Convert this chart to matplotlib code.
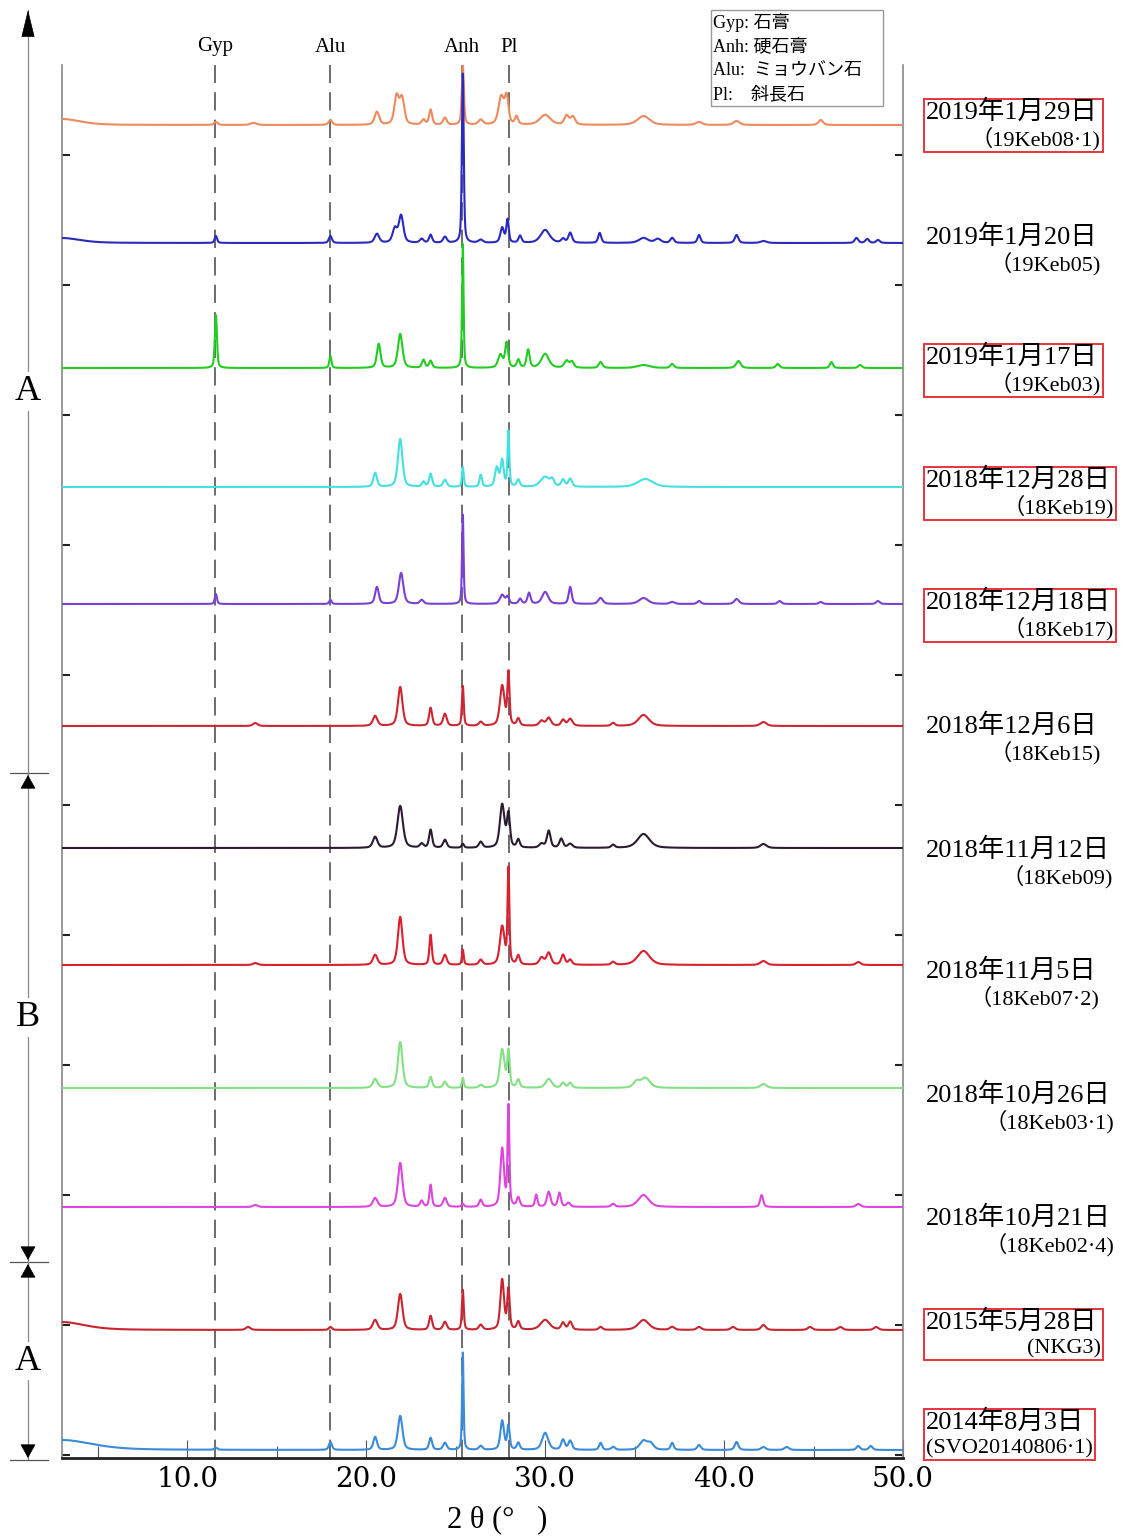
import numpy as np
import matplotlib
matplotlib.use('Agg')
import matplotlib.pyplot as plt
from matplotlib.ticker import MultipleLocator
from matplotlib.patches import Rectangle
from matplotlib.transforms import blended_transform_factory

plt.rcParams['font.family'] = ['Liberation Serif', 'Noto Sans CJK JP']

W, H = 1128, 1540

# sample labels, top to bottom
dates = ['2019年1月29日', '2019年1月20日', '2019年1月17日', '2018年12月28日',
         '2018年12月18日', '2018年12月6日', '2018年11月12日', '2018年11月5日',
         '2018年10月26日', '2018年10月21日', '2015年5月28日', '2014年8月3日']
sample_ids = ['（19Keb08·1)', '（19Keb05)', '（19Keb03)', '（18Keb19)',
              '（18Keb17)', '（18Keb15)', '（18Keb09)', '（18Keb07·2)',
              '（18Keb03·1)', '（18Keb02·4)', '(NKG3)', '(SVO20140806·1)']
boxed = [True, False, True, True, True, False, False, False, False, False, True, True]
colors = ['#EE8A5E', '#2A2ABF', '#22CC22', '#44E0E0', '#7A40D2', '#CC2633',
          '#2B1B30', '#D9202F', '#84E084', '#DD45DD', '#C92530', '#3A8BD8']

# baseline offset of each pattern (intensity units)
offsets = [1330, 1212, 1087, 968, 851, 729, 607, 490, 367, 248, 125, 5]

# peaks: (2theta, height, half width)
peaks_19keb08_1 = [(3.0, 6, 1.2), (11.6, 3, 0.12), (13.7, 2, 0.2), (18.0, 5, 0.12),
                   (20.6, 13, 0.15), (21.7, 28, 0.15), (22.0, 26, 0.15), (23.2, 5, 0.12),
                   (23.6, 15, 0.1), (24.4, 7, 0.12), (25.4, 60, 0.07), (26.4, 5, 0.15),
                   (27.55, 28, 0.18), (27.85, 26, 0.12), (28.4, 8, 0.1), (30.0, 10, 0.35),
                   (31.2, 9, 0.15), (31.55, 8, 0.15), (35.5, 9, 0.4), (38.6, 3, 0.2),
                   (40.7, 4, 0.2), (45.4, 5, 0.15)]
peaks_19keb05 = [(3.0, 5, 1.2), (11.6, 7, 0.08), (18.0, 7, 0.1), (20.6, 9, 0.15),
                 (21.6, 14, 0.15), (21.95, 27, 0.15), (23.1, 4, 0.12), (23.6, 8, 0.1),
                 (24.4, 6, 0.12), (25.4, 170, 0.06), (26.4, 3, 0.15), (27.6, 15, 0.12),
                 (27.9, 23, 0.08), (28.6, 7, 0.1), (30.0, 13, 0.3), (31.0, 4, 0.12),
                 (31.4, 10, 0.12), (33.05, 10, 0.1), (35.5, 5, 0.3), (36.3, 4, 0.2),
                 (37.1, 5, 0.12), (38.6, 8, 0.1), (40.7, 8, 0.12), (42.2, 2, 0.2),
                 (47.4, 5, 0.12), (48.0, 4, 0.12), (48.6, 3, 0.12)]
peaks_19keb03 = [(11.6, 53, 0.07), (18.0, 12, 0.07), (20.7, 24, 0.12), (21.9, 34, 0.15),
                 (23.2, 8, 0.1), (23.6, 7, 0.1), (25.4, 125, 0.05), (27.5, 13, 0.15),
                 (27.85, 25, 0.1), (28.5, 8, 0.1), (29.05, 18, 0.1), (30.0, 14, 0.25),
                 (31.2, 7, 0.15), (31.5, 6, 0.12), (33.1, 6, 0.12), (35.5, 3, 0.4),
                 (37.1, 4, 0.12), (40.8, 7, 0.15), (43.0, 4, 0.12), (46.0, 6, 0.1),
                 (47.6, 3, 0.12)]
peaks_18keb19 = [(20.5, 14, 0.12), (21.9, 48, 0.15), (23.2, 5, 0.1), (23.6, 13, 0.1),
                 (24.4, 7, 0.12), (25.4, 20, 0.06), (26.4, 12, 0.08), (27.3, 19, 0.12),
                 (27.6, 26, 0.1), (27.95, 55, 0.06), (28.5, 7, 0.1), (30.0, 10, 0.3),
                 (30.4, 6, 0.12), (31.0, 7, 0.12), (31.4, 8, 0.12), (35.6, 8, 0.5)]
peaks_18keb17 = [(11.6, 10, 0.07), (18.0, 4, 0.08), (20.6, 17, 0.12), (21.95, 31, 0.15),
                 (23.1, 4, 0.12), (25.4, 90, 0.05), (27.6, 9, 0.15), (27.9, 7, 0.1),
                 (28.6, 5, 0.1), (29.1, 11, 0.1), (30.0, 12, 0.2), (31.4, 17, 0.1),
                 (33.1, 6, 0.15), (35.5, 6, 0.3), (37.1, 2, 0.15), (38.6, 3, 0.12),
                 (40.7, 5, 0.15), (43.1, 3, 0.12), (45.4, 2, 0.12), (48.6, 3, 0.12)]
peaks_18keb15 = [(13.8, 3, 0.15), (20.5, 10, 0.15), (21.9, 39, 0.15), (23.6, 18, 0.1),
                 (24.4, 12, 0.12), (25.4, 40, 0.06), (26.4, 4, 0.12), (27.6, 40, 0.15),
                 (27.95, 52, 0.07), (28.5, 7, 0.1), (29.8, 5, 0.15), (30.2, 8, 0.15),
                 (31.0, 6, 0.12), (31.4, 7, 0.15), (33.8, 3, 0.12), (35.5, 11, 0.35),
                 (42.2, 4, 0.2)]
peaks_18keb09 = [(20.5, 11, 0.15), (21.9, 42, 0.18), (23.1, 4, 0.12), (23.6, 18, 0.1),
                 (24.4, 8, 0.12), (25.4, 4, 0.08), (26.4, 6, 0.12), (27.6, 43, 0.15),
                 (27.95, 33, 0.1), (28.5, 8, 0.1), (29.8, 4, 0.15), (30.2, 17, 0.12),
                 (30.9, 9, 0.12), (31.4, 4, 0.15), (33.8, 3, 0.12), (35.5, 14, 0.4),
                 (42.2, 4, 0.2)]
peaks_18keb07_2 = [(13.8, 2, 0.15), (20.5, 10, 0.15), (21.9, 48, 0.15), (23.6, 30, 0.08),
                   (24.4, 10, 0.12), (25.4, 15, 0.06), (26.4, 5, 0.12), (27.6, 38, 0.15),
                   (27.95, 95, 0.06), (28.5, 9, 0.1), (29.8, 7, 0.15), (30.2, 12, 0.15),
                   (31.0, 10, 0.12), (31.4, 5, 0.12), (33.8, 3, 0.12), (35.5, 14, 0.4),
                   (42.2, 4, 0.2), (47.5, 3, 0.15)]
peaks_18keb03_1 = [(20.5, 9, 0.15), (21.9, 46, 0.15), (23.6, 11, 0.1), (24.4, 6, 0.12),
                   (25.4, 10, 0.06), (26.4, 3, 0.12), (27.6, 38, 0.15), (27.95, 36, 0.08),
                   (28.5, 8, 0.1), (30.2, 9, 0.2), (31.0, 5, 0.12), (31.4, 5, 0.12),
                   (35.1, 6, 0.2), (35.6, 10, 0.3), (42.2, 4, 0.2)]
peaks_18keb02_4 = [(13.8, 2, 0.15), (20.5, 9, 0.15), (21.9, 44, 0.15), (23.1, 6, 0.1),
                   (23.6, 22, 0.08), (24.4, 9, 0.12), (25.4, 3, 0.08), (26.4, 7, 0.1),
                   (27.6, 58, 0.12), (27.95, 100, 0.06), (28.5, 9, 0.1), (29.5, 12, 0.08),
                   (30.2, 15, 0.12), (30.8, 14, 0.1), (31.3, 4, 0.12), (33.8, 3, 0.12),
                   (35.5, 12, 0.35), (42.1, 12, 0.1), (47.5, 3, 0.15)]
peaks_nkg3 = [(3.0, 8, 1.5), (13.4, 3, 0.15), (18.0, 3, 0.1), (20.5, 10, 0.15),
              (21.9, 36, 0.15), (23.6, 14, 0.1), (24.4, 8, 0.12), (25.4, 40, 0.06),
              (26.4, 5, 0.12), (27.6, 50, 0.12), (27.95, 40, 0.08), (28.5, 8, 0.1),
              (30.0, 10, 0.3), (31.0, 7, 0.12), (31.4, 8, 0.12), (33.1, 3, 0.12),
              (35.5, 10, 0.35), (37.1, 3, 0.15), (38.6, 3, 0.15), (40.5, 3, 0.15),
              (42.2, 5, 0.15), (44.8, 3, 0.15), (46.5, 3, 0.15), (48.5, 3, 0.15)]
peaks_svo20140806_1 = [(3.0, 10, 2.0), (11.6, 2, 0.1), (18.0, 8, 0.1), (20.5, 13, 0.12),
                       (21.9, 34, 0.15), (23.6, 12, 0.1), (24.4, 7, 0.12), (25.4, 98, 0.05),
                       (26.4, 4, 0.12), (27.6, 29, 0.12), (27.95, 24, 0.08), (28.5, 7, 0.1),
                       (30.0, 17, 0.2), (31.0, 10, 0.12), (31.4, 9, 0.12), (33.1, 7, 0.1),
                       (33.8, 3, 0.12), (35.5, 9, 0.25), (35.9, 6, 0.2), (37.1, 7, 0.1),
                       (38.6, 5, 0.12), (40.7, 8, 0.12), (42.2, 3, 0.15), (43.5, 3, 0.15),
                       (47.5, 4, 0.12), (48.2, 4, 0.12)]

all_peaks = [peaks_19keb08_1, peaks_19keb05, peaks_19keb03, peaks_18keb19,
             peaks_18keb17, peaks_18keb15, peaks_18keb09, peaks_18keb07_2,
             peaks_18keb03_1, peaks_18keb02_4, peaks_nkg3, peaks_svo20140806_1]

# reference mineral positions
minerals = ['Gyp', 'Alu', 'Anh', 'Pl']
mineral_pos = [11.55, 18.0, 25.37, 28.0]

# period groups: label, upper edge, lower edge
group_labels = ['A', 'B', 'A']
group_edges = [1445, 682, 193, -5]


def profile(x, peaks):
    y = np.zeros_like(x)
    for p, h, w in peaks:
        d = ((x - p) / w) ** 2
        y += h * (0.5 / (1 + d) + 0.5 * np.exp(-np.log(2) * d))
    return y


tt = np.linspace(3, 50, 5000)

fig = plt.figure(figsize=(W / 100, H / 100), dpi=100)
ax = fig.add_axes([62 / W, 1 - 1458 / H, 841 / W, 1393 / H])

for pk, off, c in zip(all_peaks, offsets, colors):
    ax.plot(tt, off + profile(tt, pk), color=c, lw=1.5, zorder=3)

for name, pos in zip(minerals, mineral_pos):
    ax.axvline(pos, color='#444444', lw=1.1, dashes=(12, 6), zorder=1)
    ax.text(pos, 1408, name, ha='center', va='center', fontsize=15, clip_on=False)

ax.set_xlim(3, 50)
ax.set_ylim(-3, 1390)
ax.set_xticks([10, 20, 30, 40, 50])
ax.set_xticklabels(['10.0', '20.0', '30.0', '40.0', '50.0'], fontsize=20,
                   family=['DejaVu Serif'])
ax.set_xticks([5, 15, 25, 35, 45], minor=True)
ax.tick_params(axis='x', which='major', direction='in', length=13, width=0.8,
               color='#555555', pad=6)
ax.tick_params(axis='x', which='minor', direction='in', length=9, width=0.8,
               color='#555555')
ax.yaxis.set_major_locator(MultipleLocator(130))
ax.tick_params(axis='y', which='major', direction='in', length=6, width=1.5,
               left=True, right=True, labelleft=False, color='#222222')
ax.spines['top'].set_visible(False)
for s in ['left', 'right']:
    ax.spines[s].set_color('#888888')
    ax.spines[s].set_linewidth(1.2)
ax.spines['bottom'].set_color('#222222')
ax.spines['bottom'].set_linewidth(2)

ax.set_xlabel('2 θ (°   )', fontsize=22)
ax.xaxis.set_label_coords((497 - 62) / 841, -0.034)

# left period arrows
blend = blended_transform_factory(ax.transAxes, ax.transData)
ax_x = (28 - 62) / 841
tick_l, tick_r = (10 - 62) / 841, (48 - 62) / 841


def head(y, up, length=9, width=0.25):
    ax.annotate('', xy=(ax_x, y), xycoords=blend,
                xytext=(0, -length if up else length), textcoords='offset points',
                arrowprops=dict(arrowstyle='-|>,head_length=%.2f,head_width=%.2f'
                                % (length / 20, width),
                                mutation_scale=20, color='black', lw=0.5,
                                shrinkA=0, shrinkB=0),
                annotation_clip=False)


for i, lab in enumerate(group_labels):
    top, bot = group_edges[i], group_edges[i + 1]
    ax.plot([ax_x, ax_x], [bot, top], color='#888888', lw=0.9,
            transform=blend, clip_on=False)
    ax.text(ax_x, (top + bot) / 2, lab, transform=blend, ha='center', va='center',
            fontsize=26, clip_on=False,
            bbox=dict(fc='white', ec='none', pad=2))
    if i == 0:
        head(top, True, length=18, width=0.22)
    else:
        head(top - 2, True)
        head(bot + 2, False)
    ax.plot([tick_l, tick_r], [bot, bot], color='#555555', lw=0.9,
            transform=blend, clip_on=False)

# mineral legend box
fig.patches.append(Rectangle((711 / W, 1 - 106 / H), 172 / W, 96 / H,
                             transform=fig.transFigure, fill=False,
                             ec='#999999', lw=1))
legend_lines = ['Gyp: 石膏', 'Anh: 硬石膏', 'Alu:  ミョウバン石', 'Pl:    斜長石']
for k, line in enumerate(legend_lines):
    fig.text(713 / W, 1 - (22 + 24.3 * k) / H, line, fontsize=13,
             ha='left', va='center')

# sample labels on the right
label_y = [112, 237, 357, 480, 602, 726, 850, 971, 1095, 1218, 1322, 1422]
x_left = 926
fig.canvas.draw()
renderer = fig.canvas.get_renderer()
for d, sid, y, b in zip(dates, sample_ids, label_y, boxed):
    t1 = fig.text(x_left / W, 1 - y / H, d, fontsize=19, ha='left', va='center')
    bb1 = t1.get_window_extent(renderer)
    t2 = fig.text(x_left / W, 1 - (y + 27) / H, sid, fontsize=16,
                  ha='left', va='center')
    bb2 = t2.get_window_extent(renderer)
    right = max(bb1.x1 + 3, x_left + bb2.width)
    t2.set_position((right / W, 1 - (y + 27) / H))
    t2.set_ha('right')
    bb2 = t2.get_window_extent(renderer)
    if b:
        x0 = min(bb1.x0, bb2.x0) - 2
        x1 = max(bb1.x1, bb2.x1) + 2
        y0 = bb2.y0 - 1
        y1 = bb1.y1 + 1
        fig.patches.append(Rectangle((x0 / W, y0 / H), (x1 - x0) / W, (y1 - y0) / H,
                                     transform=fig.transFigure, fill=False,
                                     ec='#E8333C', lw=1.4))

fig.savefig('out.png', dpi=100)
